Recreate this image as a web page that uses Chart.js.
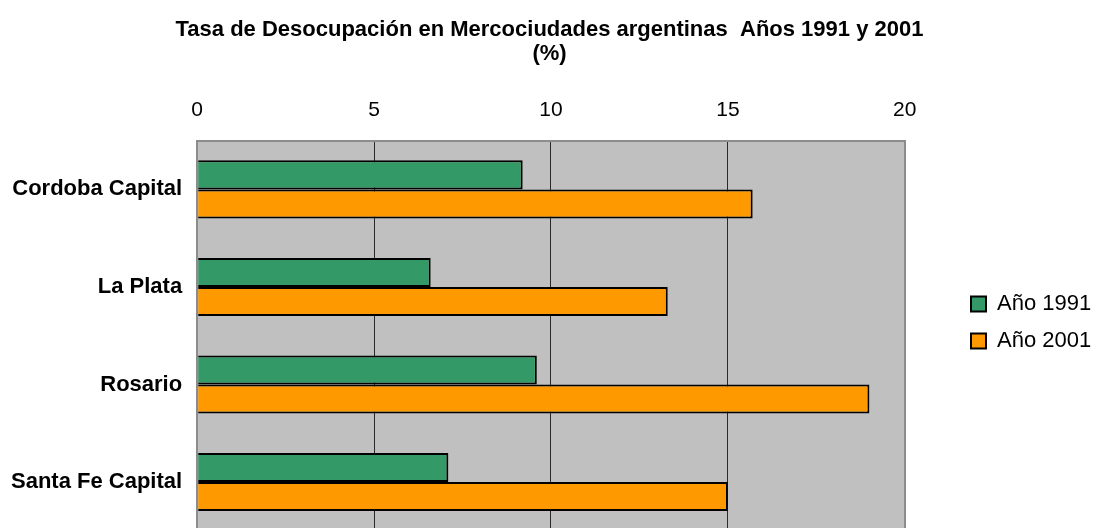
<!DOCTYPE html>
<html>
<head>
<meta charset="utf-8">
<script src="https://cdn.jsdelivr.net/npm/chart.js@4/dist/chart.umd.min.js"></script>
<style>
  html, body { margin: 0; padding: 0; background: #fff; overflow: hidden; }
  #wrap { width: 1099px; height: 559px; position: relative; }
</style>
</head>
<body>
<div id="wrap"><canvas id="desocupacionChart"></canvas></div>
<script>
const ciudades = ['Cordoba Capital', 'La Plata', 'Rosario', 'Santa Fe Capital'];
const tasa1991 = [9.2, 6.6, 9.6, 7.1];
const tasa2001 = [15.7, 13.3, 19.0, 15.0];
const serieNombres = ['Año 1991', 'Año 2001'];

Chart.defaults.font.family = '"Liberation Sans", Arial, sans-serif';
Chart.defaults.color = '#000';

// gray plot background, title centred on the page, legend next to the plot
const plotArea = {
    id: 'plotArea',
    beforeDraw(chart) {
        const a = chart.chartArea;
        const ctx = chart.ctx;
        ctx.save();
        ctx.fillStyle = '#C0C0C0';
        ctx.fillRect(a.left, a.top, a.right - a.left, a.bottom - a.top);
        ctx.restore();
    },
    afterLayout(chart) {
        const lg = chart.legend;
        const w = lg.width, h = lg.height;
        lg.left = 956;
        lg.right = lg.left + w;
        lg.top = 278;
        lg.bottom = lg.top + h;
        const tb = chart.titleBlock;
        tb.left = 0;
        tb.right = 1099;
        tb.width = 1099;
    }
};

const ctxBar = document.getElementById('desocupacionChart').getContext('2d');
new Chart(ctxBar, {
    type: 'bar',
    data: {
        labels: ciudades,
        datasets: [{
            label: serieNombres[0],
            data: tasa1991,
            backgroundColor: '#339966',
            borderColor: '#000',
            borderWidth: 2
        }, {
            label: serieNombres[1],
            data: tasa2001,
            backgroundColor: '#FF9900',
            borderColor: '#000',
            borderWidth: 2
        }]
    },
    options: {
        indexAxis: 'y',
        responsive: true,
        maintainAspectRatio: false,
        animation: false,
        datasets: {
            bar: { categoryPercentage: 0.595, barPercentage: 1.0 }
        },
        layout: { padding: { left: -4, right: 49, top: 0, bottom: 0 } },
        plugins: {
            title: {
                display: true,
                text: ['Tasa de Desocupación en Mercociudades argentinas  Años 1991 y 2001', '(%)'],
                font: { size: 22, weight: 'bold', lineHeight: 1.1 },
                color: '#000',
                padding: { top: 18, bottom: 13 }
            },
            legend: {
                position: 'right',
                align: 'start',
                labels: {
                    boxWidth: 15,
                    boxHeight: 15,
                    padding: 15,
                    font: { size: 22 },
                    color: '#000'
                }
            },
            tooltip: { enabled: false }
        },
        scales: {
            x: {
                position: 'top',
                min: 0,
                max: 20,
                ticks: { stepSize: 5, padding: 18, font: { size: 21 }, color: '#000' },
                grid: {
                    drawTicks: false,
                    color: (c) => (c.tick && (c.tick.value === 0 || c.tick.value === 20)) ? '#8C8C8C' : '#2a2a2a',
                    lineWidth: (c) => (c.tick && (c.tick.value === 0 || c.tick.value === 20)) ? 2 : 1
                },
                border: { display: true, color: '#8C8C8C', width: 2 }
            },
            y: {
                ticks: { padding: 15, font: { size: 22, weight: 'bold' }, color: '#000' },
                grid: { display: false, drawTicks: false },
                border: { display: true, color: '#8C8C8C', width: 2 }
            }
        }
    },
    plugins: [plotArea]
});
</script>
</body>
</html>
